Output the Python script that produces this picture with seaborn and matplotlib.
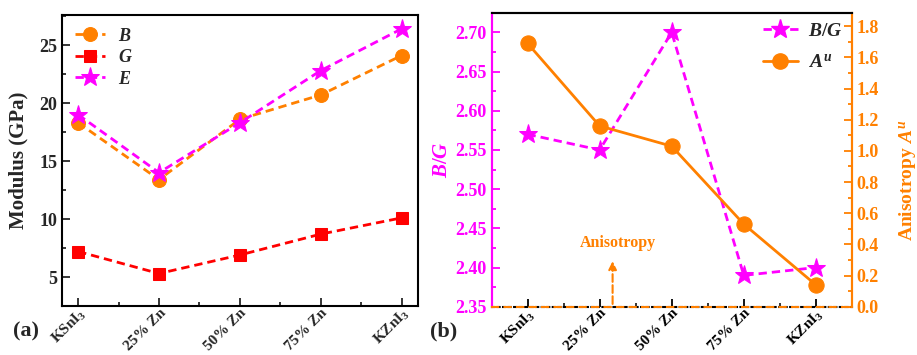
import numpy as np
import matplotlib
matplotlib.use('Agg')
import matplotlib.pyplot as plt
import seaborn as sns
from matplotlib.ticker import MultipleLocator, FormatStrFormatter
from matplotlib.lines import Line2D

sns.set_style('ticks')
plt.rcParams['font.family'] = ['Liberation Serif', 'DejaVu Serif']
plt.rcParams['font.weight'] = 'bold'
plt.rcParams['mathtext.fontset'] = 'custom'
plt.rcParams['mathtext.rm'] = 'Liberation Serif:bold'
plt.rcParams['mathtext.it'] = 'Liberation Serif:italic:bold'
plt.rcParams['mathtext.bf'] = 'Liberation Serif:bold'

# data
samples = ['KSnI$_3$', '25% Zn', '50% Zn', '75% Zn', 'KZnI$_3$']
bulk = [18.3, 13.4, 18.6, 20.7, 24.1]
shear = [7.2, 5.3, 6.9, 8.7, 10.1]
young = [19.0, 14.0, 18.3, 22.8, 26.4]
pugh = [2.57, 2.55, 2.70, 2.39, 2.40]
aniso = [1.69, 1.16, 1.03, 0.53, 0.14]

orange = '#FF8000'
red = '#FF0000'
magenta = '#FF00FF'
dash = (0, (3, 1.8))

fig = plt.figure(figsize=(9.17, 3.55), dpi=100)
ax = fig.add_axes([0.0676, 0.138, 0.388, 0.820])
bx = fig.add_axes([0.536, 0.136, 0.393, 0.828])
bx2 = bx.twinx()

# ---- (a) moduli
for vals, col, mk, ms, lab in [(bulk, orange, 'o', 10, '$B$'),
                               (shear, red, 's', 9, '$G$'),
                               (young, magenta, '*', 14, '$E$')]:
    sns.lineplot(x=samples, y=vals, ax=ax, color=col, marker=mk, markersize=ms,
                 markeredgecolor=col, linestyle=dash, linewidth=2, label=lab)

ax.set_xlim(-0.2, 4.2)
ax.set_ylim(2.5, 27.6)
ax.yaxis.set_major_locator(MultipleLocator(5))
ax.yaxis.set_minor_locator(MultipleLocator(2.5))
ax.xaxis.set_minor_locator(MultipleLocator(0.5))
ax.set_ylabel('Modulus (GPa)', fontsize=15, fontweight='bold')
ax.yaxis.set_label_coords(-0.095, 0.5)
ax.set_xlabel('')
ax.tick_params(which='both', direction='in', width=1.3, labelsize=13)
ax.tick_params(which='major', length=6)
ax.tick_params(which='minor', length=3)
ax.tick_params(axis='x', labelsize=11, pad=0)
plt.setp(ax.get_xticklabels(), rotation=45, ha='right', rotation_mode='anchor')
for s in ax.spines.values():
    s.set_linewidth(1.5)
    s.set_color('black')
ax.legend(loc='upper left', frameon=False, fontsize=13, handlelength=1.7,
          handletextpad=0.7, labelspacing=0.25, borderaxespad=0.3)

# ---- (b) B/G and anisotropy
sns.lineplot(x=samples, y=pugh, ax=bx, color=magenta, marker='*', markersize=14,
             markeredgecolor=magenta, linestyle=dash, linewidth=2)
sns.lineplot(x=samples, y=aniso, ax=bx2, color=orange, marker='o', markersize=11,
             markeredgecolor=orange, linewidth=2)

bx.set_xlim(-0.5, 4.5)
bx.set_ylim(2.35, 2.725)
bx2.set_ylim(0, 1.886)
bx.yaxis.set_major_locator(MultipleLocator(0.05))
bx.yaxis.set_minor_locator(MultipleLocator(0.025))
bx2.yaxis.set_major_locator(MultipleLocator(0.2))
bx2.yaxis.set_minor_locator(MultipleLocator(0.1))
bx.xaxis.set_minor_locator(MultipleLocator(0.5))
bx.yaxis.set_major_formatter(FormatStrFormatter('%.2f'))
bx2.yaxis.set_major_formatter(FormatStrFormatter('%.1f'))
bx.set_xlabel('')
bx.set_ylabel('$B/G$', fontsize=15, color=magenta, labelpad=2)
bx2.set_ylabel('Anisotropy $A^u$', fontsize=14, color=orange, fontweight='bold')
bx2.yaxis.set_label_coords(1.125, 0.43)

bx.tick_params(which='both', direction='in', width=1.3, labelsize=13)
bx.tick_params(which='major', length=6)
bx.tick_params(which='minor', length=3)
bx.tick_params(axis='y', which='both', colors=magenta)
bx.tick_params(axis='x', labelsize=11, colors='black', pad=0)
bx2.tick_params(which='both', direction='in', width=1.3, labelsize=13, colors=orange)
bx2.tick_params(which='major', length=6)
bx2.tick_params(which='minor', length=3)
plt.setp(bx.get_xticklabels(), rotation=45, ha='right', rotation_mode='anchor')

for s in list(bx.spines.values()) + list(bx2.spines.values()):
    s.set_linewidth(1.5)
bx.spines['top'].set_color('black')
bx2.spines['top'].set_color('black')
bx.spines['left'].set_color(magenta)
bx2.spines['left'].set_color(magenta)
bx2.spines['right'].set_color(orange)
bx.spines['right'].set_color(orange)
bx.spines['bottom'].set_color('black')
bx.spines['bottom'].set_linestyle(':')
bx2.spines['bottom'].set_color(orange)
bx2.spines['bottom'].set_linestyle((0, (3, 3)))

handles = [Line2D([], [], color=magenta, marker='*', markersize=14, linestyle=dash, linewidth=2),
           Line2D([], [], color=orange, marker='o', markersize=11, linewidth=2)]
bx2.legend(handles, ['$B/G$', "$A^u$"], loc='upper right', frameon=False, fontsize=14,
           handlelength=1.8, handletextpad=0.5, labelspacing=0.7, borderaxespad=0.1)
if bx.get_legend() is not None:
    bx.get_legend().remove()

bx2.annotate('', xy=(1.18, 0.31), xytext=(1.18, 0.0),
             arrowprops=dict(arrowstyle='-|>', color=orange, linestyle='--', linewidth=1.5,
                             mutation_scale=12))
bx2.text(1.25, 0.41, 'Anisotropy', color=orange, fontsize=11.5, fontweight='bold',
         ha='center', va='center')

fig.text(0.028, 0.065, '(a)', fontsize=16, fontweight='bold', ha='center', va='center')
fig.text(0.484, 0.065, '(b)', fontsize=16, fontweight='bold', ha='center', va='center')

fig.savefig('out.png', dpi=100)
